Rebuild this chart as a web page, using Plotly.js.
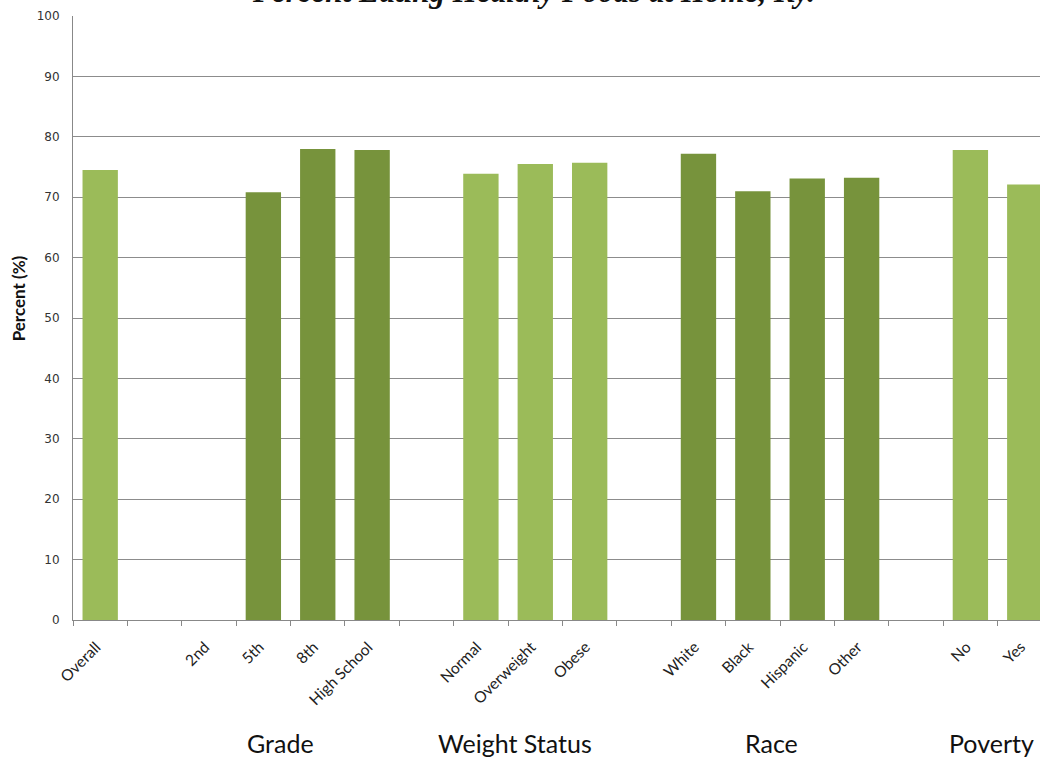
<!DOCTYPE html>
<html>
<head>
<meta charset="utf-8">
<script src="https://cdn.plot.ly/plotly-3.0.1.min.js"></script>
<style>html,body{margin:0;padding:0;background:#fff;}#chart{width:1040px;height:759px;}</style>
</head>
<body>
<div id="chart"></div>
<script>
// Data
const categoryKeys = ["Overall","gap1","2nd","5th","8th","High School","gap2","Normal","Overweight","Obese","gap3","White","Black","Hispanic","Other","gap4","No","Yes"];
const tickLabels   = ["Overall","","2nd","5th","8th","High School","","Normal","Overweight","Obese","","White","Black","Hispanic","Other","","No","Yes"];
const percentValues = [74.5, null, null, 70.8, 78.0, 77.8, null, 73.9, 75.5, 75.7, null, 77.2, 71.0, 73.1, 73.2, null, 77.8, 72.1];
const groupOfCategory = ["Overall","","Grade","Grade","Grade","Grade","","Weight Status","Weight Status","Weight Status","","Race","Race","Race","Race","","Poverty","Poverty"];
const groupNames = ["Grade","Weight Status","Race","Poverty"];
const chartTitle = "Percent Eating Healthy Foods at Home, Ky.";
const yTitle = "Percent (%)";

const LIGHT = "#9BBB59", DARK = "#77933C";
const groupColor = {"Overall": LIGHT, "Grade": DARK, "Weight Status": LIGHT, "Race": DARK, "Poverty": LIGHT, "": LIGHT};
const barColors = groupOfCategory.map(g => groupColor[g]);

const groupLabelX = {"Grade": 3.31, "Weight Status": 7.63, "Race": 12.35, "Poverty": 16.38};

const trace = {
  type: "bar",
  x: categoryKeys,
  y: percentValues,
  marker: {color: barColors, line: {width: 0}},
  hoverinfo: "x+y"
};

const annotations = groupNames.map(g => ({
  text: g, xref: "x", yref: "paper", x: groupLabelX[g], y: -0.2036,
  xanchor: "center", yanchor: "middle", showarrow: false,
  font: {family: "Lato, 'Open Sans', sans-serif", size: 25, color: "#111"}
}));
annotations.push({
  text: chartTitle, xref: "paper", yref: "paper", x: 0.476, y: 1.041,
  xanchor: "center", yanchor: "middle", showarrow: false,
  font: {family: "'Liberation Serif', 'Times New Roman', serif", size: 31, color: "#111", style: "italic", weight: "bold"}
});
annotations.push({
  text: "<b>" + yTitle + "</b>", xref: "paper", yref: "paper", x: -0.0566, y: 0.533,
  xanchor: "center", yanchor: "middle", textangle: -90, showarrow: false,
  font: {family: "Lato, 'Open Sans', sans-serif", size: 17, color: "#111"}
});

const layout = {
  width: 1040, height: 759,
  margin: {l: 73, r: 0, t: 16, b: 139, pad: 0},
  paper_bgcolor: "#fff", plot_bgcolor: "#fff",
  showlegend: false,
  bargap: 0.35,
  xaxis: {
    type: "category",
    categoryorder: "array", categoryarray: categoryKeys,
    tickmode: "array", tickvals: categoryKeys, ticktext: tickLabels,
    tickson: "boundaries",
    range: [-0.5, 17.28],
    ticks: "outside", ticklen: 5, tickcolor: "#888", tickwidth: 1,
    tickangle: -45,
    ticklabelstandoff: 11,
    ticklabelshift: -4,
    tickfont: {family: "Lato, 'Open Sans', sans-serif", size: 15.5, color: "#222"},
    showline: true, linecolor: "#888", linewidth: 1,
    showgrid: false, zeroline: false,
    fixedrange: true
  },
  yaxis: {
    range: [0, 100],
    tickmode: "linear", tick0: 0, dtick: 10,
    ticks: "",
    ticklabelstandoff: 10,
    tickfont: {family: "'DejaVu Sans', Verdana, sans-serif", size: 12, color: "#333"},
    showline: true, linecolor: "#888", linewidth: 1,
    showgrid: true, gridcolor: "#8c8c8c", gridwidth: 1,
    zeroline: false,
    fixedrange: true
  },
  annotations: annotations
};

Plotly.newPlot("chart", [trace], layout, {displayModeBar: false, staticPlot: true});
</script>
</body>
</html>
